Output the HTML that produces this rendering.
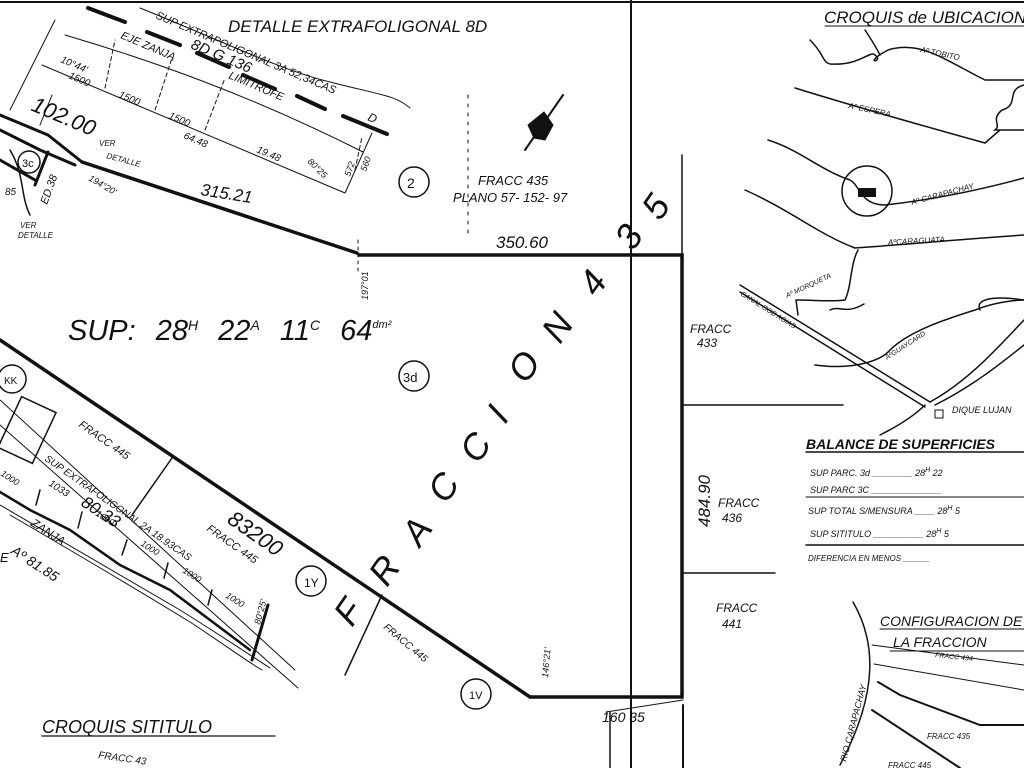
<!DOCTYPE html>
<html><head><meta charset="utf-8"><style>
html,body{margin:0;padding:0;background:#fff;}
svg{display:block;}
text{font-family:"Liberation Sans",sans-serif;fill:#111;font-style:italic;}
.n{font-style:normal;}
</style></head><body>
<svg width="1024" height="768" viewBox="0 0 1024 768" xmlns="http://www.w3.org/2000/svg">
<g stroke="#111" fill="none" stroke-linecap="round">
<line x1="0" y1="2" x2="1024" y2="2" stroke-width="2"/>
<line x1="631" y1="0" x2="631" y2="768" stroke-width="2"/>
<line x1="682" y1="155" x2="682" y2="255" stroke-width="1.5"/>
<line x1="683" y1="705" x2="683" y2="768" stroke-width="2"/>
<polyline points="359,255 682,255 682,697 530,697" stroke-width="3.5"/>
<line x1="0" y1="340" x2="530" y2="697" stroke-width="3.5"/>
<line x1="82" y1="162" x2="357" y2="253" stroke-width="3.5"/>
<line x1="683" y1="405" x2="843" y2="405" stroke-width="1.5"/>
<line x1="683" y1="573" x2="775" y2="573" stroke-width="1.5"/>
<line x1="358" y1="240" x2="358" y2="275" stroke-width="1" stroke-dasharray="3,4"/>
<line x1="468" y1="95" x2="468" y2="235" stroke-width="1" stroke-dasharray="3,6"/>
<line x1="88" y1="8" x2="125" y2="22" stroke-width="4"/>
<line x1="147" y1="32" x2="180" y2="45" stroke-width="4"/>
<line x1="197" y1="53" x2="229" y2="67" stroke-width="4"/>
<line x1="243" y1="75" x2="275" y2="89" stroke-width="4"/>
<line x1="297" y1="96" x2="325" y2="109" stroke-width="4"/>
<line x1="343" y1="116" x2="387" y2="134" stroke-width="4"/>
<path d="M140,8 C220,40 280,70 330,82 C380,95 395,95 410,108" stroke-width="1"/>
<path d="M65,35 C150,60 250,95 363,152" stroke-width="1"/>
<line x1="42" y1="65" x2="345" y2="193" stroke-width="1"/>
<line x1="345" y1="193" x2="372" y2="133" stroke-width="1"/>
<line x1="355" y1="170" x2="362" y2="137" stroke-width="1" stroke-dasharray="4,3"/>
<line x1="105" y1="88" x2="115" y2="40" stroke-width="1" stroke-dasharray="4,3"/>
<line x1="155" y1="110" x2="172" y2="58" stroke-width="1" stroke-dasharray="4,3"/>
<line x1="205" y1="130" x2="225" y2="78" stroke-width="1" stroke-dasharray="4,3"/>
<line x1="10" y1="110" x2="55" y2="20" stroke-width="1"/>
<line x1="40" y1="125" x2="52" y2="95" stroke-width="1"/>
<polyline points="0,115 48,135 82,162" stroke-width="3"/>
<polyline points="0,130 40,150 75,165" stroke-width="3"/>
<polyline points="0,160 35,180" stroke-width="3"/>
<line x1="48" y1="152" x2="35" y2="185" stroke-width="3"/>
<circle cx="29" cy="162" r="11" stroke-width="1.5"/>
<path d="M10,150 C25,175 20,195 30,215" stroke-width="1.5"/>
<line x1="0" y1="400" x2="295" y2="670" stroke-width="1"/>
<line x1="0" y1="425" x2="298" y2="688" stroke-width="1"/>
<polyline points="0,492 30,510 70,530 120,565 170,590 210,620 250,650" stroke-width="2.5"/>
<path d="M0,505 C60,540 120,575 180,610 C220,635 250,655 270,668" stroke-width="1"/>
<path d="M10,515 C70,550 130,585 190,622 C225,645 245,660 262,670" stroke-width="1"/>
<line x1="268" y1="605" x2="252" y2="660" stroke-width="3"/>
<line x1="172" y1="458" x2="132" y2="515" stroke-width="1.5"/>
<line x1="40" y1="490" x2="36" y2="505" stroke-width="1.5"/>
<line x1="82" y1="512" x2="78" y2="528" stroke-width="1.5"/>
<line x1="127" y1="540" x2="122" y2="555" stroke-width="1.5"/>
<line x1="168" y1="563" x2="164" y2="578" stroke-width="1.5"/>
<line x1="212" y1="590" x2="208" y2="605" stroke-width="1.5"/>
<circle cx="12" cy="379" r="14" stroke-width="1.5"/>
<rect x="8" y="402" width="38" height="56" stroke-width="1.5" transform="rotate(25 27 430)"/>
<line x1="382" y1="595" x2="345" y2="675" stroke-width="1.5"/>
<circle cx="414" cy="182" r="15" stroke-width="1.5"/>
<circle cx="414" cy="376" r="15" stroke-width="1.5"/>
<circle cx="311" cy="581" r="15" stroke-width="1.5"/>
<circle cx="476" cy="694" r="15" stroke-width="1.5"/>
<line x1="525" y1="150" x2="563" y2="95" stroke-width="2"/>
<path d="M528,125 L544,112 L553,125 L545,140 L534,138 Z" fill="#111"/>
<line x1="825" y1="26" x2="1024" y2="26" stroke-width="1"/>
<path d="M810,40 C825,55 822,62 830,64 C860,66 870,50 875,55 C885,62 860,65 888,50 C920,40 945,60 985,80 L1024,80" stroke-width="1.5"/>
<path d="M865,30 C875,45 880,55 880,55" stroke-width="1.5"/>
<path d="M1024,85 C1005,90 1020,105 1002,110 C990,120 1002,125 995,130 L1024,130" stroke-width="1.5"/>
<path d="M795,88 C850,105 920,125 985,143 L1000,130" stroke-width="1.5"/>
<path d="M768,140 C800,150 820,170 850,180 C860,185 860,205 885,205 C930,200 980,190 1024,178" stroke-width="1.5"/>
<circle cx="867" cy="191" r="25" stroke-width="1.5"/>
<rect x="858" y="188" width="18" height="9" fill="#111" stroke="none"/>
<path d="M745,190 C790,210 820,235 855,248 C900,245 950,240 1024,235" stroke-width="1.5"/>
<path d="M858,250 C850,265 852,285 845,300 C830,302 815,300 797,300" stroke-width="1.5"/>
<line x1="796" y1="300" x2="798" y2="315" stroke-width="1.5"/>
<path d="M830,310 C840,305 845,315 864,304" stroke-width="1.5"/>
<path d="M815,365 C850,370 880,362 890,350 C910,330 950,318 975,310 C1000,300 1024,300 1024,300" stroke-width="1.5"/>
<line x1="740" y1="285" x2="930" y2="402" stroke-width="1.5"/>
<line x1="740" y1="292" x2="925" y2="407" stroke-width="1.5"/>
<path d="M925,405 C915,415 900,425 880,435" stroke-width="1.5"/>
<path d="M930,402 C970,380 1000,345 1024,320" stroke-width="1.5"/>
<path d="M935,405 C975,385 1005,360 1024,345" stroke-width="1.5"/>
<path d="M980,310 C975,300 990,295 1024,300" stroke-width="1.5"/>
<rect x="935" y="410" width="8" height="8" stroke-width="1"/>
<line x1="806" y1="452" x2="1024" y2="452" stroke-width="1.5"/>
<line x1="806" y1="497" x2="1024" y2="497" stroke-width="1"/>
<line x1="806" y1="545" x2="1024" y2="545" stroke-width="1.5"/>
<line x1="880" y1="629" x2="1024" y2="629" stroke-width="1"/>
<line x1="890" y1="651" x2="1024" y2="651" stroke-width="1"/>
<path d="M853,602 C875,640 880,690 840,765" stroke-width="1.5"/>
<line x1="872" y1="645" x2="1024" y2="665" stroke-width="1"/>
<line x1="874" y1="664" x2="1024" y2="690" stroke-width="1"/>
<polyline points="878,682 900,695 980,725 1024,725" stroke-width="2"/>
<polyline points="872,710 960,768" stroke-width="2"/>
<line x1="42" y1="736" x2="275" y2="736" stroke-width="1.2"/>
<line x1="606" y1="712" x2="683" y2="700" stroke-width="1"/>
<line x1="610" y1="712" x2="610" y2="768" stroke-width="1.5"/>
</g>
<g font-size="14">
<text x="228" y="32" font-size="17" font-style="normal">DETALLE EXTRAFOLIGONAL 8D</text>
<text x="155" y="18" font-size="11" transform="rotate(23 155 18)">SUP EXTRAPOLIGONAL 3A 52,34CAS</text>
<text x="120" y="38" font-size="11" transform="rotate(23 120 38)">EJE ZANJA</text>
<text x="190" y="48" font-size="15" transform="rotate(23 190 48)">8D G 136</text>
<text x="228" y="78" font-size="11" transform="rotate(23 228 78)">LIMITROFE</text>
<text x="367" y="120" font-size="12" transform="rotate(23 367 120)">D</text>
<text x="60" y="62" font-size="10" transform="rotate(23 60 62)">10°44'</text>
<text x="68" y="78" font-size="10" transform="rotate(23 68 78)">1500</text>
<text x="118" y="97" font-size="10" transform="rotate(23 118 97)">1500</text>
<text x="168" y="118" font-size="10" transform="rotate(23 168 118)">1500</text>
<text x="183" y="138" font-size="10" transform="rotate(23 183 138)">64.48</text>
<text x="256" y="152" font-size="10" transform="rotate(23 256 152)">19.48</text>
<text x="307" y="162" font-size="9" transform="rotate(45 307 162)">80°25</text>
<text x="350" y="177" font-size="9" transform="rotate(-70 350 177)">572</text>
<text x="366" y="172" font-size="9" transform="rotate(-70 366 172)">560</text>
<text x="30" y="110" font-size="22" font-style="normal" transform="rotate(23 30 110)">102.00</text>
<text x="99" y="146" font-size="8">VER</text>
<text x="106" y="158" font-size="8" transform="rotate(15 106 158)">DETALLE</text>
<text x="88" y="180" font-size="9" transform="rotate(30 88 180)">194°20'</text>
<text x="20" y="228" font-size="8">VER</text>
<text x="18" y="238" font-size="8">DETALLE</text>
<text x="22" y="167" font-size="11" class="n">3c</text>
<text x="47" y="205" font-size="11" transform="rotate(-70 47 205)">ED.38</text>
<text x="5" y="195" font-size="10">85</text>
<text x="200" y="195" font-size="17" font-style="normal" transform="rotate(9 200 195)">315.21</text>
<text x="407" y="188" font-size="14" class="n">2</text>
<text x="478" y="185" font-size="13">FRACC 435</text>
<text x="453" y="202" font-size="13">PLANO 57- 152- 97</text>
<text x="496" y="248" font-size="17" font-style="normal">350.60</text>
<text x="368" y="300" font-size="9" transform="rotate(-90 368 300)">197°01</text>
<text x="68" y="340" font-size="29" font-style="normal" word-spacing="12">SUP: 28<tspan font-size="14" dy="-10">H</tspan><tspan dy="10"> 22</tspan><tspan font-size="14" dy="-10">A</tspan><tspan dy="10"> 11</tspan><tspan font-size="14" dy="-10">C</tspan><tspan dy="10"> 64</tspan><tspan font-size="11" dy="-12">dm²</tspan></text>
<text x="403" y="382" font-size="13" class="n">3d</text>
<g font-size="36" font-style="normal">
<text x="0" y="0" transform="translate(352,628) rotate(-55)">F</text>
<text x="0" y="0" transform="translate(387,588) rotate(-55)">R</text>
<text x="0" y="0" transform="translate(420,548) rotate(-55)">A</text>
<text x="0" y="0" transform="translate(446,505) rotate(-55)">C</text>
<text x="0" y="0" transform="translate(478,465) rotate(-55)">C</text>
<text x="0" y="0" transform="translate(505,425) rotate(-55)">I</text>
<text x="0" y="0" transform="translate(526,385) rotate(-55)">O</text>
<text x="0" y="0" transform="translate(560,345) rotate(-55)">N</text>
<text x="0" y="0" transform="translate(597,298) rotate(-55)">4</text>
<text x="0" y="0" transform="translate(633,252) rotate(-55)">3</text>
<text x="0" y="0" transform="translate(660,222) rotate(-55)">5</text>
</g>
<text x="690" y="333" font-size="12">FRACC</text>
<text x="697" y="347" font-size="12">433</text>
<text x="718" y="507" font-size="12">FRACC</text>
<text x="722" y="522" font-size="12">436</text>
<text x="710" y="527" font-size="17" font-style="normal" transform="rotate(-90 710 527)">484.90</text>
<text x="716" y="612" font-size="12">FRACC</text>
<text x="722" y="628" font-size="12">441</text>
<text x="548" y="678" font-size="9" transform="rotate(-85 548 678)">146°21'</text>
<text x="602" y="722" font-size="14" font-style="normal">160 35</text>
<text x="383" y="628" font-size="10" transform="rotate(40 383 628)">FRACC 445</text>
<text x="4" y="384" font-size="10" class="n">KK</text>
<text x="304" y="587" font-size="12" class="n">1Y</text>
<text x="469" y="699" font-size="11" class="n">1V</text>
<text x="78" y="426" font-size="11" transform="rotate(35 78 426)">FRACC 445</text>
<text x="44" y="460" font-size="10" transform="rotate(35 44 460)">SUP EXTRAFOLIGONAL 2A 18.93CAS</text>
<text x="206" y="530" font-size="11" transform="rotate(35 206 530)">FRACC 445</text>
<text x="226" y="522" font-size="22" font-style="normal" transform="rotate(35 226 522)">83200</text>
<text x="80" y="505" font-size="17" font-style="normal" transform="rotate(33 80 505)">80.33</text>
<text x="48" y="485" font-size="10" transform="rotate(33 48 485)">1033</text>
<text x="95" y="515" font-size="9" transform="rotate(33 95 515)">1000</text>
<text x="140" y="545" font-size="9" transform="rotate(33 140 545)">1000</text>
<text x="182" y="572" font-size="9" transform="rotate(33 182 572)">1000</text>
<text x="225" y="597" font-size="9" transform="rotate(33 225 597)">1000</text>
<text x="0" y="475" font-size="9" transform="rotate(33 0 475)">1000</text>
<text x="30" y="525" font-size="12" transform="rotate(33 30 525)">ZANJA</text>
<text x="10" y="553" font-size="14" transform="rotate(33 10 553)">Aº 81.85</text>
<text x="0" y="562" font-size="13">E</text>
<text x="260" y="625" font-size="9" transform="rotate(-75 260 625)">80°25'</text>
<text x="42" y="733" font-size="18">CROQUIS SITITULO</text>
<text x="98" y="758" font-size="10" transform="rotate(8 98 758)">FRACC 43</text>
<text x="824" y="23" font-size="17">CROQUIS de UBICACION</text>
<text x="920" y="52" font-size="8" transform="rotate(12 920 52)">Aº TOBITO</text>
<text x="848" y="108" font-size="8" transform="rotate(12 848 108)">Aº ESPERA</text>
<text x="912" y="205" font-size="8" transform="rotate(-15 912 205)">Aº CARAPACHAY</text>
<text x="888" y="245" font-size="8" transform="rotate(-3 888 245)">AºCARAGUATA</text>
<text x="787" y="298" font-size="7" transform="rotate(-25 787 298)">Aº MORQUETA</text>
<text x="740" y="295" font-size="7" transform="rotate(32 740 295)">CANAL GOB AGIAS</text>
<text x="887" y="360" font-size="7" transform="rotate(-33 887 360)">AºGUAYCARD</text>
<text x="952" y="413" font-size="9">DIQUE LUJAN</text>
<text x="806" y="449" font-size="14" font-weight="bold">BALANCE DE SUPERFICIES</text>
<text x="810" y="476" font-size="9">SUP PARC. 3d ________ 28<tspan font-size="7" dy="-4">H</tspan><tspan dy="4"> 22</tspan></text>
<text x="810" y="493" font-size="9">SUP PARC 3C ______________ </text>
<text x="808" y="514" font-size="9">SUP TOTAL S/MENSURA ____ 28<tspan font-size="7" dy="-4">H</tspan><tspan dy="4"> 5</tspan></text>
<text x="810" y="537" font-size="9">SUP SITITULO __________ 28<tspan font-size="7" dy="-4">H</tspan><tspan dy="4"> 5</tspan></text>
<text x="808" y="561" font-size="8">DIFERENCIA EN MENOS ______</text>
<text x="880" y="626" font-size="14">CONFIGURACION DE</text>
<text x="893" y="647" font-size="14">LA FRACCION</text>
<text x="935" y="657" font-size="7" transform="rotate(6 935 657)">FRACC 434</text>
<text x="927" y="739" font-size="8">FRACC 435</text>
<text x="888" y="768" font-size="8">FRACC 445</text>
<text x="846" y="762" font-size="9" transform="rotate(-75 846 762)">RIO CARAPACHAY</text>
</g>
</svg>
</body></html>
